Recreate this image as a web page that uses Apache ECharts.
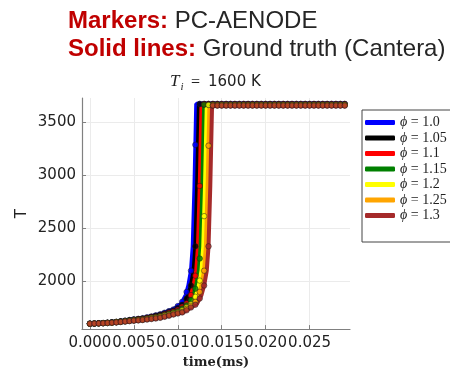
<!DOCTYPE html>
<html>
<head>
<meta charset="utf-8">
<script src="https://cdn.jsdelivr.net/npm/echarts@6/dist/echarts.min.js"></script>
<style>
  html, body { margin: 0; padding: 0; background: #fff; }
  #chart { width: 450px; height: 374px; }
</style>
</head>
<body>
<div id="chart"></div>
<script>
// Equivalence ratios shown in the legend
const phiLabels = ['1.0', '1.05', '1.1', '1.15', '1.2', '1.25', '1.3'];
const phiColors = ['#0000ff', '#000000', '#ff0000', '#008000', '#ffff00', '#ffa500', '#a52a2a'];

// Ground truth (Cantera) temperature histories: time in ms, T in K
const truthTime_10  = [0, 0.003, 0.006, 0.008, 0.0095, 0.0104, 0.0109, 0.0112, 0.0115, 0.0117, 0.0119, 0.0121, 0.029];
const truthTemp_10  = [1600, 1618, 1652, 1690, 1735, 1790, 1870, 1960, 2100, 2330, 2900, 3675, 3675];
const truthTime_105 = [0, 0.003, 0.006, 0.008, 0.0097, 0.0107, 0.0112, 0.0115, 0.0118, 0.0120, 0.0122, 0.0124, 0.029];
const truthTemp_105 = [1600, 1617, 1649, 1684, 1730, 1790, 1870, 1960, 2100, 2330, 2900, 3673, 3673];
const truthTime_11  = [0, 0.003, 0.006, 0.008, 0.0099, 0.0110, 0.0115, 0.0118, 0.0121, 0.0123, 0.0125, 0.0127, 0.029];
const truthTemp_11  = [1600, 1616, 1646, 1678, 1725, 1790, 1870, 1960, 2100, 2330, 2900, 3670, 3670];
const truthTime_115 = [0, 0.003, 0.006, 0.008, 0.0101, 0.0113, 0.0118, 0.0121, 0.0124, 0.0126, 0.0128, 0.0130, 0.029];
const truthTemp_115 = [1600, 1615, 1643, 1672, 1720, 1790, 1870, 1960, 2100, 2330, 2900, 3667, 3667];
const truthTime_12  = [0, 0.003, 0.006, 0.008, 0.0103, 0.0116, 0.0121, 0.0124, 0.0127, 0.0129, 0.0131, 0.0133, 0.029];
const truthTemp_12  = [1600, 1614, 1640, 1666, 1715, 1790, 1870, 1960, 2100, 2330, 2900, 3664, 3664];
const truthTime_125 = [0, 0.003, 0.006, 0.008, 0.0105, 0.0119, 0.0124, 0.0127, 0.0130, 0.0132, 0.0134, 0.0136, 0.029];
const truthTemp_125 = [1600, 1613, 1637, 1660, 1712, 1790, 1870, 1960, 2100, 2330, 2900, 3661, 3661];
const truthTime_13  = [0, 0.003, 0.006, 0.008, 0.0107, 0.0122, 0.0127, 0.0130, 0.0133, 0.0135, 0.0137, 0.0139, 0.029];
const truthTemp_13  = [1600, 1612, 1634, 1655, 1710, 1790, 1870, 1960, 2100, 2330, 2900, 3658, 3658];

// PC-AENODE predictions, sampled on a common time grid (ms)
const markerTime = [
  0, 0.0005, 0.001, 0.0015, 0.002, 0.0025, 0.003, 0.0035, 0.004, 0.0045,
  0.005, 0.0055, 0.006, 0.0065, 0.007, 0.0075, 0.008, 0.0085, 0.009, 0.0095,
  0.010, 0.0105, 0.011, 0.0115, 0.012, 0.0125, 0.013, 0.0135, 0.014, 0.0145,
  0.015, 0.0155, 0.016, 0.0165, 0.017, 0.0175, 0.018, 0.0185, 0.019, 0.0195,
  0.020, 0.0205, 0.021, 0.0215, 0.022, 0.0225, 0.023, 0.0235, 0.024, 0.0245,
  0.025, 0.0255, 0.026, 0.0265, 0.027, 0.0275, 0.028, 0.0285, 0.029
];
const markerTemp_10 = [
  1600, 1602, 1604, 1607, 1610, 1614, 1618, 1623, 1629, 1635,
  1641, 1646, 1652, 1660, 1669, 1679, 1690, 1704, 1719, 1735,
  1766, 1806, 1900, 2100, 3288, 3675, 3675, 3675, 3675, 3675,
  3675, 3675, 3675, 3675, 3675, 3675, 3675, 3675, 3675, 3675,
  3675, 3675, 3675, 3675, 3675, 3675, 3675, 3675, 3675, 3675,
  3675, 3675, 3675, 3675, 3675, 3675, 3675, 3675, 3675
];
const markerTemp_105 = [
  1600, 1602, 1604, 1606, 1609, 1613, 1617, 1622, 1627, 1633,
  1639, 1644, 1649, 1657, 1665, 1674, 1684, 1697, 1711, 1725,
  1748, 1778, 1838, 1960, 2330, 3673, 3673, 3673, 3673, 3673,
  3673, 3673, 3673, 3673, 3673, 3673, 3673, 3673, 3673, 3673,
  3673, 3673, 3673, 3673, 3673, 3673, 3673, 3673, 3673, 3673,
  3673, 3673, 3673, 3673, 3673, 3673, 3673, 3673, 3673
];
const markerTemp_11 = [
  1600, 1602, 1604, 1606, 1609, 1612, 1616, 1621, 1626, 1631,
  1636, 1641, 1646, 1653, 1661, 1669, 1678, 1690, 1703, 1715,
  1731, 1760, 1790, 1870, 2053, 2900, 3670, 3670, 3670, 3670,
  3670, 3670, 3670, 3670, 3670, 3670, 3670, 3670, 3670, 3670,
  3670, 3670, 3670, 3670, 3670, 3670, 3670, 3670, 3670, 3670,
  3670, 3670, 3670, 3670, 3670, 3670, 3670, 3670, 3670
];
const markerTemp_115 = [
  1600, 1602, 1603, 1605, 1608, 1611, 1615, 1620, 1625, 1630,
  1635, 1639, 1643, 1650, 1657, 1664, 1672, 1683, 1695, 1706,
  1718, 1743, 1773, 1822, 1930, 2215, 3667, 3667, 3667, 3667,
  3667, 3667, 3667, 3667, 3667, 3667, 3667, 3667, 3667, 3667,
  3667, 3667, 3667, 3667, 3667, 3667, 3667, 3667, 3667, 3667,
  3667, 3667, 3667, 3667, 3667, 3667, 3667, 3667, 3667
];
const markerTemp_12 = [
  1600, 1601, 1603, 1605, 1607, 1610, 1614, 1618, 1623, 1628,
  1632, 1636, 1640, 1646, 1653, 1659, 1666, 1677, 1687, 1698,
  1709, 1727, 1755, 1784, 1854, 2007, 2615, 3664, 3664, 3664,
  3664, 3664, 3664, 3664, 3664, 3664, 3664, 3664, 3664, 3664,
  3664, 3664, 3664, 3664, 3664, 3664, 3664, 3664, 3664, 3664,
  3664, 3664, 3664, 3664, 3664, 3664, 3664, 3664, 3664
];
const markerTemp_125 = [
  1600, 1601, 1603, 1605, 1607, 1610, 1613, 1617, 1621, 1626,
  1630, 1634, 1637, 1643, 1648, 1654, 1660, 1670, 1681, 1691,
  1702, 1712, 1740, 1768, 1806, 1900, 2100, 3280, 3661, 3661,
  3661, 3661, 3661, 3661, 3661, 3661, 3661, 3661, 3661, 3661,
  3661, 3661, 3661, 3661, 3661, 3661, 3661, 3661, 3661, 3661,
  3661, 3661, 3661, 3661, 3661, 3661, 3661, 3661, 3661
];
const markerTemp_13 = [
  1600, 1601, 1603, 1604, 1606, 1609, 1612, 1616, 1620, 1624,
  1628, 1631, 1634, 1639, 1644, 1649, 1655, 1665, 1675, 1686,
  1696, 1706, 1726, 1753, 1779, 1838, 1960, 2330, 3658, 3658,
  3658, 3658, 3658, 3658, 3658, 3658, 3658, 3658, 3658, 3658,
  3658, 3658, 3658, 3658, 3658, 3658, 3658, 3658, 3658, 3658,
  3658, 3658, 3658, 3658, 3658, 3658, 3658, 3658, 3658
];

const truthTimes = [truthTime_10, truthTime_105, truthTime_11, truthTime_115, truthTime_12, truthTime_125, truthTime_13];
const truthTemps = [truthTemp_10, truthTemp_105, truthTemp_11, truthTemp_115, truthTemp_12, truthTemp_125, truthTemp_13];
const markerTemps = [markerTemp_10, markerTemp_105, markerTemp_11, markerTemp_115, markerTemp_12, markerTemp_125, markerTemp_13];

const pairs = (xs, ys) => xs.map((x, i) => [x, ys[i]]);

// Solid ground-truth lines first, predicted markers on top
const lineSeries = phiLabels.map((phi, k) => ({
  type: 'line',
  name: phi,
  data: pairs(truthTimes[k], truthTemps[k]),
  color: phiColors[k],
  showSymbol: false,
  symbol: 'none',
  lineStyle: { width: 4, color: phiColors[k] },
  z: 2
}));
const markerSeries = phiLabels.map((phi, k) => ({
  type: 'scatter',
  name: 'PC-AENODE ' + phi,
  data: pairs(markerTime, markerTemps[k]),
  symbol: 'circle',
  symbolSize: 5.5,
  itemStyle: { color: phiColors[k], borderColor: '#1a1a1a', borderWidth: 0.6 },
  z: 3
}));

const chart = echarts.init(document.getElementById('chart'), null, { renderer: 'canvas' });
chart.setOption({
  animation: false,
  backgroundColor: '#ffffff',
  title: {
    left: 63,
    top: 2,
    text: '{r|Markers:} PC-AENODE\n{r|Solid lines:} Ground truth (Cantera)',
    textStyle: {
      fontFamily: 'Liberation Sans',
      fontSize: 24,
      lineHeight: 28,
      fontWeight: 'normal',
      color: '#262626',
      rich: {
        r: { fontFamily: 'Liberation Sans', fontSize: 24, lineHeight: 28, fontWeight: 'bold', color: '#c00000' }
      }
    }
  },
  graphic: [
    { type: 'text', x: 170, y: 82, style: { text: 'T', fontFamily: 'Liberation Serif', fontStyle: 'italic', fontSize: 17, fill: '#222', align: 'left', verticalAlign: 'middle' } },
    { type: 'text', x: 180.5, y: 87, style: { text: 'i', fontFamily: 'Liberation Serif', fontStyle: 'italic', fontSize: 11, fill: '#222', align: 'left', verticalAlign: 'middle' } },
    { type: 'text', x: 191, y: 83, style: { text: '=', fontFamily: 'Liberation Serif', fontSize: 16, fill: '#222', align: 'left', verticalAlign: 'middle' } },
    { type: 'text', x: 208, y: 82.5, style: { text: '1600 K', fontFamily: 'DejaVu Sans', fontSize: 15, fill: '#222', align: 'left', verticalAlign: 'middle' } }
  ],
  legend: {
    data: phiLabels,
    orient: 'vertical',
    left: 362,
    top: 110,
    padding: [5, 8, 19, 3],
    itemWidth: 30,
    itemHeight: 5,
    itemGap: 0.5,
    icon: 'roundRect',
    backgroundColor: '#ffffff',
    borderColor: '#444',
    borderWidth: 1,
    borderRadius: 0,
    formatter: name => '{p|\u03d5} = ' + name,
    textStyle: {
      fontFamily: 'Liberation Serif',
      fontSize: 14,
      lineHeight: 15,
      color: '#222',
      rich: { p: { fontFamily: 'Liberation Serif', fontStyle: 'italic', fontSize: 14, lineHeight: 15, color: '#222' } }
    }
  },
  grid: { left: 82, right: 100, top: 98, bottom: 39, containLabel: false },
  xAxis: {
    type: 'value',
    min: -0.0009,
    max: 0.0296,
    splitNumber: 6,
    name: 'time(ms)',
    nameLocation: 'middle',
    nameGap: 21,
    nameTextStyle: { fontFamily: 'DejaVu Serif', fontWeight: 'bold', fontSize: 13, color: '#222' },
    axisLine: { show: true, onZero: false, lineStyle: { color: '#808080', width: 1.2 } },
    axisTick: { show: true, inside: true, length: 4, lineStyle: { color: '#808080' } },
    axisLabel: {
      showMinLabel: false,
      showMaxLabel: false,
      formatter: v => v.toFixed(3),
      fontFamily: 'DejaVu Sans',
      fontSize: 15,
      color: '#222',
      margin: 7
    },
    splitLine: { show: true, showMinLine: false, showMaxLine: false, lineStyle: { color: '#ebebeb', width: 1 } }
  },
  yAxis: {
    type: 'value',
    min: 1549,
    max: 3730,
    splitNumber: 5,
    name: 'T',
    nameLocation: 'middle',
    nameRotate: 90,
    nameGap: 52,
    nameMoveOverlap: false,
    nameTextStyle: { fontFamily: 'DejaVu Sans', fontSize: 15, color: '#222' },
    axisLine: { show: true, onZero: false, lineStyle: { color: '#808080', width: 1.2 } },
    axisTick: { show: true, inside: true, length: 4, lineStyle: { color: '#808080' } },
    axisLabel: {
      showMinLabel: false,
      showMaxLabel: false,
      formatter: v => String(v),
      fontFamily: 'DejaVu Sans',
      fontSize: 15,
      color: '#222',
      margin: 6
    },
    splitLine: { show: true, showMinLine: false, showMaxLine: false, lineStyle: { color: '#ebebeb', width: 1 } }
  },
  series: lineSeries.concat(markerSeries)
});
</script>
</body>
</html>
